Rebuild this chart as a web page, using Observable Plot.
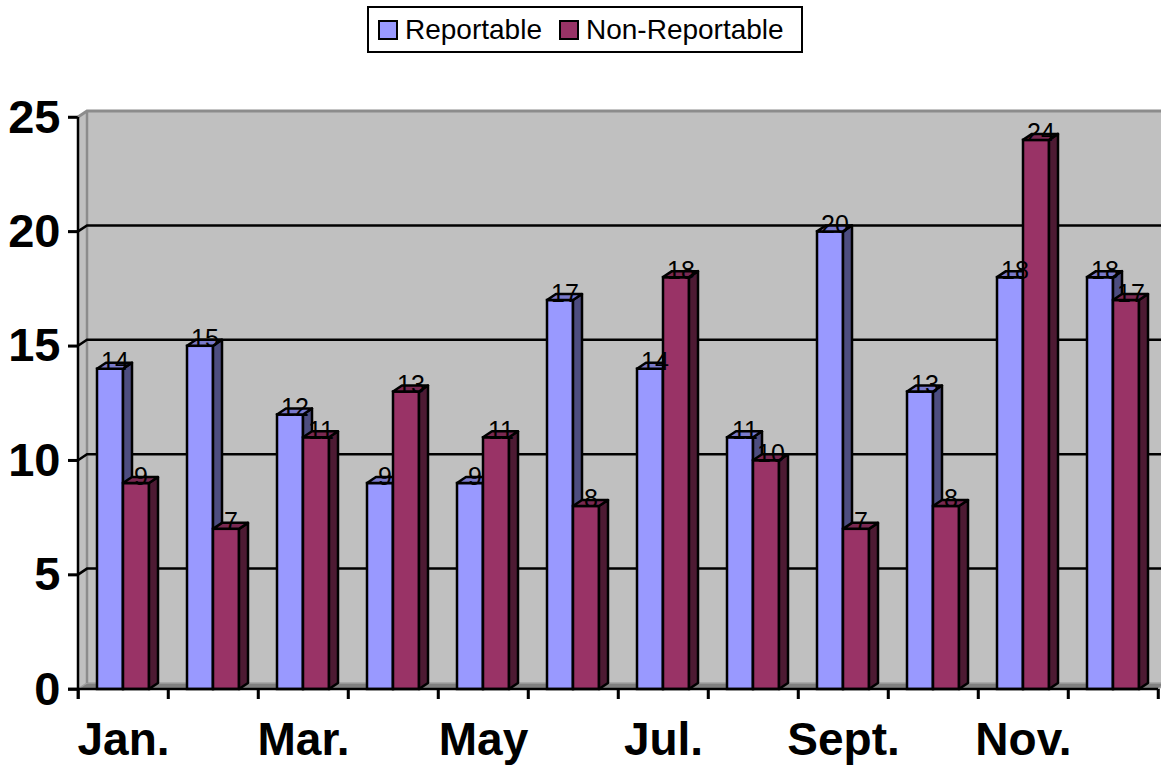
<!DOCTYPE html>
<html>
<head>
<meta charset="utf-8">
<script src="https://cdn.jsdelivr.net/npm/d3@7"></script>
<script src="https://cdn.jsdelivr.net/npm/@observablehq/plot@0.6"></script>
<style>
  body { margin: 0; background: #fff; font-family: Arial, "Liberation Sans", sans-serif; }
  #legendRow { position: relative; height: 60px; width: 1161px; }
  #legend { position: absolute; left: 367px; top: 6px; width: 436px; height: 47px; box-sizing: border-box;
            border: 2px solid #000; display: flex; align-items: center; font-size: 28px; color: #000; padding-left: 9px; }
  #legend .sw { width: 20px; height: 20px; box-sizing: border-box; border: 2px solid #000; margin-right: 7px; flex: none; }
  #legend .item { display: flex; align-items: center; margin-right: 17px; }
  #chart svg [aria-label$="tick"] path, #chart svg .tick line { stroke-width: 2.5px; }
</style>
</head>
<body>
<div id="legendRow"><div id="legend"></div></div>
<div id="chart"></div>
<script>
// ---- data ----
const months = ["Jan.", "Feb.", "Mar.", "Apr.", "May", "Jun.", "Jul.", "Aug.", "Sept.", "Oct.", "Nov.", "Dec."];
const reportable    = [14, 15, 12, 9, 9, 17, 14, 11, 20, 13, 18, 18];
const nonReportable = [9, 7, 11, 13, 11, 8, 18, 10, 7, 8, 24, 17];
const seriesNames = ["Reportable", "Non-Reportable"];
const yTicks = [0, 5, 10, 15, 20, 25];
const labelEvery = 2;

// ---- style ----
const FRONT = ["#9999FF", "#993366"];
const SIDE  = ["#4D4D80", "#4D1A33"];
const TOP   = ["#7A7ACC", "#7A2952"];
const DX = 9, DY = -6;            // 3D depth offset in pixels
const GAP = 19 / 90, BAR = 26 / 90; // fractions of a category slot
const WALL = "#C0C0C0", WALLEDGE = "#8C8C8C", FLOOR = "#808080";
const LINEW = 2.5;

// ---- legend ----
const legend = document.getElementById("legend");
seriesNames.forEach((name, s) => {
  const it = document.createElement("div");
  it.className = "item";
  it.innerHTML = `<div class="sw" style="background:${FRONT[s]}"></div><span>${name}</span>`;
  legend.appendChild(it);
});

// ---- table ----
const rows = [];
months.forEach((m, i) => {
  [reportable[i], nonReportable[i]].forEach((v, s) => {
    rows.push({month: m, i, s, v, x1: i + GAP + s * BAR, x2: i + GAP + (s + 1) * BAR});
  });
});
const bySeries = [0, 1].map(s => rows.filter(d => d.s === s));
const monthLabels = months.map((m, i) => ({m, i})).filter(d => d.i % labelEvery === 0);

const W = 1161, H = 707;
const yMax = yTicks[yTicks.length - 1];

function walls(index, scales, values, dims) {
  const {x, y} = scales;
  const g = d3.create("svg:g");
  const X0 = x(0), X1 = x(months.length), Y0 = y(0), Y1 = y(yMax);
  const right = (dims && dims.width) || W;
  // left side wall
  g.append("polygon").attr("points", [[X0, Y0], [X0, Y1], [X0 + DX, Y1 + DY], [X0 + DX, Y0 + DY]].join(" "))
    .attr("fill", WALL);
  // back wall
  g.append("rect").attr("x", X0 + DX).attr("y", Y1 + DY).attr("width", right - X0 - DX).attr("height", Y0 - Y1)
    .attr("fill", WALL);
  // floor
  g.append("polygon").attr("points", [[X0, Y0], [X1, Y0], [X1 + DX, Y0 + DY], [X0 + DX, Y0 + DY]].join(" "))
    .attr("fill", FLOOR).attr("stroke", "#A0A0A0").attr("stroke-width", 1.5);
  // back wall left edge
  g.append("line").attr("x1", X0 + DX).attr("x2", X0 + DX).attr("y1", Y1 + DY).attr("y2", Y0 + DY)
    .attr("stroke", WALLEDGE).attr("stroke-width", 2.5);
  // gridlines (with ticks on the front axis)
  for (const t of yTicks) {
    const yt = y(t);
    g.append("line").attr("x1", X0 - 10).attr("x2", X0).attr("y1", yt).attr("y2", yt)
      .attr("stroke", "#000").attr("stroke-width", LINEW);
    if (t === 0) continue;
    g.append("polyline").attr("points", [[X0, yt], [X0 + DX, yt + DY], [right, yt + DY]].join(" "))
      .attr("fill", "none").attr("stroke", t === yMax ? WALLEDGE : "#000").attr("stroke-width", t === yMax ? 3 : LINEW);
  }
  // category ticks
  for (let i = 0; i <= months.length; i++) {
    g.append("line").attr("x1", x(i)).attr("x2", x(i)).attr("y1", Y0).attr("y2", Y0 + 10)
      .attr("stroke", "#000").attr("stroke-width", LINEW);
  }
  // front axis line
  g.append("line").attr("x1", X0).attr("x2", X0).attr("y1", Y1).attr("y2", Y0 + 10)
    .attr("stroke", "#000").attr("stroke-width", LINEW);
  return g.node();
}

function faces(s) {
  return (index, scales) => {
    const {x, y} = scales;
    const g = d3.create("svg:g").attr("stroke", "#000").attr("stroke-width", LINEW).attr("stroke-linejoin", "round");
    const Y0 = y(0);
    for (const d of bySeries[s]) {
      const a = x(d.x1), b = x(d.x2), yv = y(d.v);
      g.append("polygon").attr("points", [[b, Y0], [b, yv], [b + DX, yv + DY], [b + DX, Y0 + DY]].join(" "))
        .attr("fill", SIDE[s]);
      g.append("polygon").attr("points", [[a, yv], [b, yv], [b + DX, yv + DY], [a + DX, yv + DY]].join(" "))
        .attr("fill", TOP[s]);
    }
    return g.node();
  };
}

function baseline(index, scales) {
  const {x, y} = scales;
  const g = d3.create("svg:g");
  g.append("line").attr("x1", x(0) - 10).attr("x2", x(months.length)).attr("y1", y(0)).attr("y2", y(0))
    .attr("stroke", "#000").attr("stroke-width", LINEW);
  return g.node();
}

const frontMark = s => Plot.rect(bySeries[s], {
  x1: "x1", x2: "x2", y1: () => 0, y2: "v",
  fill: FRONT[s], stroke: "#000", strokeWidth: LINEW
});

const chart = Plot.plot({
  width: W,
  height: H,
  marginLeft: 78,
  marginRight: 3,
  marginTop: 57,
  marginBottom: 78,
  style: {fontFamily: "Arial, 'Liberation Sans', sans-serif", fontSize: "47px", fontWeight: "bold", background: "#fff", color: "#000", overflow: "visible"},
  x: {domain: [0, months.length], ticks: d3.range(months.length + 1), tickFormat: () => "", tickSize: 10, label: null},
  y: {domain: [0, yMax], ticks: yTicks, tickSize: 10, tickPadding: 8, label: null},
  marks: [
    walls,
    frontMark(0),
    faces(0),
    frontMark(1),
    faces(1),
    baseline,
    Plot.text(rows, {
      x: d => (d.x1 + d.x2) / 2, y: "v", text: d => String(d.v),
      dx: DX / 2, dy: -7, fontSize: 25, fontWeight: "normal", fill: "#000"
    }),
    Plot.text(monthLabels, {
      x: d => d.i + 0.5, y: () => 0, text: "m", dy: 51, fontSize: 46, fontWeight: "bold", fill: "#000"
    })
  ]
});
document.getElementById("chart").appendChild(chart);
</script>
</body>
</html>
